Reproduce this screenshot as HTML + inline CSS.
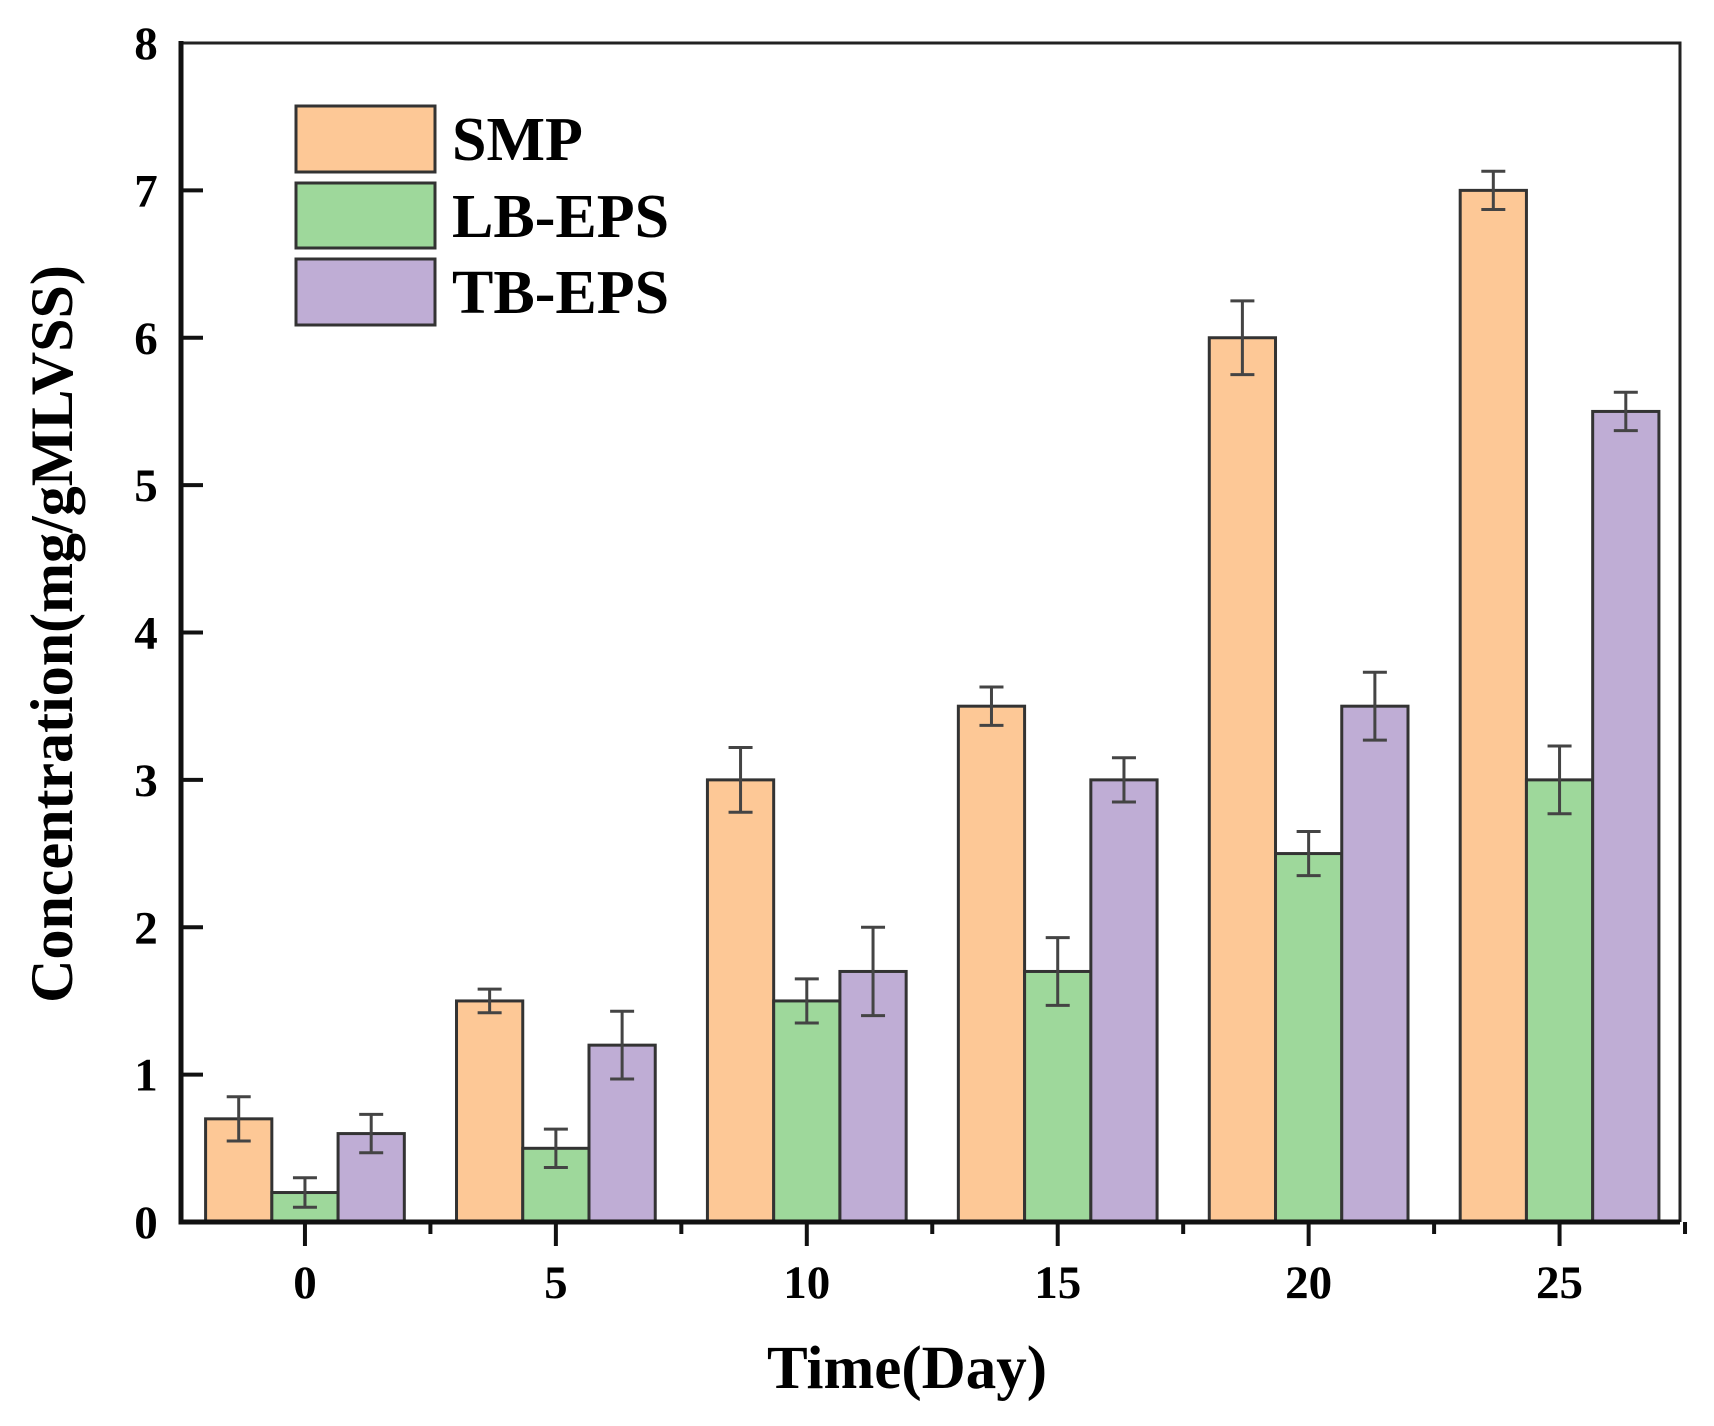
<!DOCTYPE html>
<html><head><meta charset="utf-8"><style>
html,body{margin:0;padding:0;background:#fff;}
svg{display:block;font-family:"Liberation Serif",serif;font-weight:bold;}
</style></head><body>
<svg id="chart" width="1714" height="1426" viewBox="0 0 1714 1426" xmlns="http://www.w3.org/2000/svg">
<g id="plot"></g>
<text x="907" y="1388" font-size="61" text-anchor="middle">Time(Day)</text>
<text transform="translate(72,634) rotate(-90)" font-size="60" text-anchor="middle">Concentration(mg/gMLVSS)</text>
<g>
<rect x="296" y="106" width="139" height="66" fill="#FDC896" stroke="#333" stroke-width="3"/>
<text x="452" y="160" font-size="62">SMP</text>
<rect x="296" y="183" width="139" height="65" fill="#9ED89B" stroke="#333" stroke-width="3"/>
<text x="452" y="237" font-size="62">LB-EPS</text>
<rect x="296" y="259" width="139" height="66" fill="#BFADD5" stroke="#333" stroke-width="3"/>
<text x="452" y="313" font-size="62">TB-EPS</text>
</g>
</svg>
<script>
const days = [0, 5, 10, 15, 20, 25];
const smp = [0.7, 1.5, 3.0, 3.5, 6.0, 7.0];
const smpErr = [0.15, 0.08, 0.22, 0.13, 0.25, 0.13];
const lbEps = [0.2, 0.5, 1.5, 1.7, 2.5, 3.0];
const lbEpsErr = [0.1, 0.13, 0.15, 0.23, 0.15, 0.23];
const tbEps = [0.6, 1.2, 1.7, 3.0, 3.5, 5.5];
const tbEpsErr = [0.13, 0.23, 0.3, 0.15, 0.23, 0.13];
const yTicks = [0, 1, 2, 3, 4, 5, 6, 7, 8];
const xTickLabels = ["0", "5", "10", "15", "20", "25"];

const NS = "http://www.w3.org/2000/svg";
const L = 181, R = 1680, T = 43, B = 1222;
const xMin = -2.47, xMax = 27.4, yMin = 0, yMax = 8;
function xs(d){ return L + (d - xMin) / (xMax - xMin) * (R - L); }
function ys(v){ return B - (v - yMin) / (yMax - yMin) * (B - T); }
const g = document.getElementById('plot');
function mk(tag, attrs){ const e = document.createElementNS(NS, tag); for (const k in attrs) e.setAttribute(k, attrs[k]); g.appendChild(e); return e; }

const series = [
  {vals: smp, err: smpErr, color: "#FDC896", name: "smp", off: -1.32},
  {vals: lbEps, err: lbEpsErr, color: "#9ED89B", name: "lb-eps", off: 0},
  {vals: tbEps, err: tbEpsErr, color: "#BFADD5", name: "tb-eps", off: 1.32}
];
const bw = 1.32;
series.forEach(s => {
  days.forEach((d, i) => {
    const x0 = xs(d + s.off - bw/2), x1 = xs(d + s.off + bw/2);
    const y = ys(s.vals[i]);
    const r = mk('rect', {x: x0, y: y, width: x1 - x0, height: ys(0) - y, fill: s.color, stroke: "#333", "stroke-width": 3});
    
    
    const cx = xs(d + s.off);
    const yt = ys(s.vals[i] + s.err[i]), yb = ys(s.vals[i] - s.err[i]);
    const eb = mk('path', {d: `M${cx},${yt}V${yb}M${cx-12},${yt}H${cx+12}M${cx-12},${yb}H${cx+12}`, stroke: "#444", "stroke-width": 3, fill: "none"});
    
    
  });
});

const fr = mk('path', {d: `M${L},${T}H${R}V${B}`, stroke: "#222", "stroke-width": 3, fill: "none"});


const ax = mk('path', {d: `M${L},${T-2}V${B}H${R}`, stroke: "#111", "stroke-width": 5, fill: "none"});



yTicks.forEach(v => {
  const y = ys(v);
  if (v > 0 && v < 8) {
    const t = mk('line', {x1: L, x2: L + 22, y1: y, y2: y, stroke: "#111", "stroke-width": 4});
    
    
  }
  const tx = mk('text', {x: 146, y: y + 16, "font-size": 47, "text-anchor": "middle"});
  tx.textContent = v;
  
  
});
days.forEach((d, i) => {
  const x = xs(d);
  const t = mk('line', {x1: x, x2: x, y1: B, y2: B + 24, stroke: "#111", "stroke-width": 4});
  
  
  const m = xs(d + 2.5);
  const mt = mk('line', {x1: m, x2: m, y1: B, y2: B + 12, stroke: "#111", "stroke-width": 4});
  
  
  const tx = mk('text', {x: x, y: 1298, "font-size": 47, "text-anchor": "middle"});
  tx.textContent = xTickLabels[i];
  
  
});
</script>
</body></html>
